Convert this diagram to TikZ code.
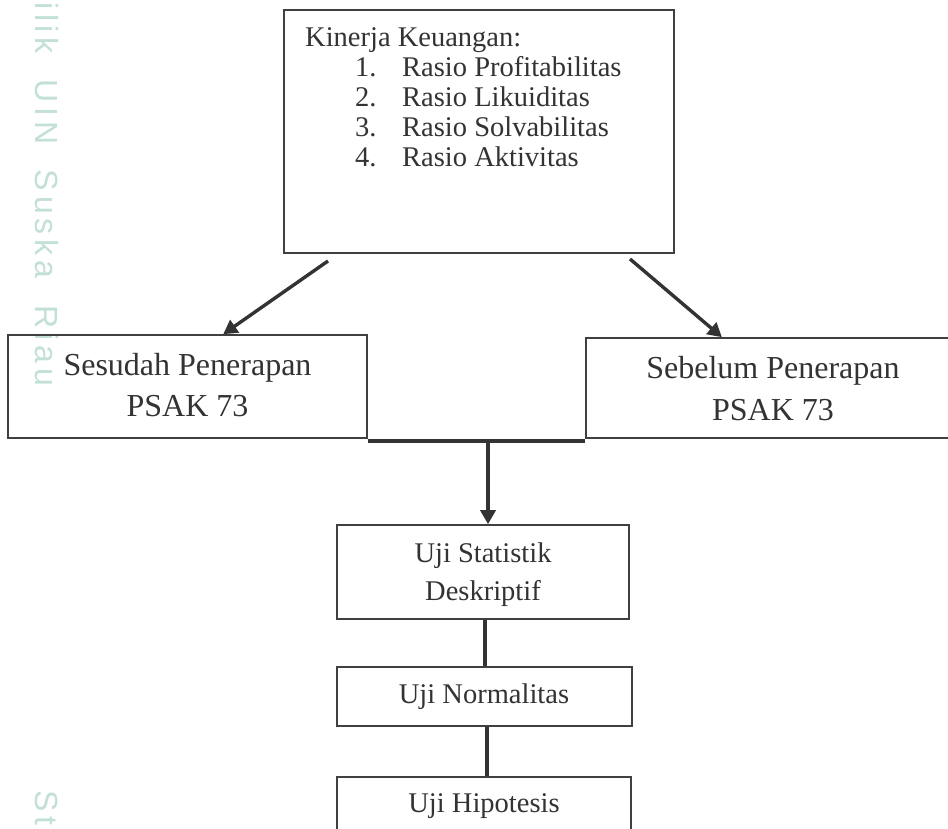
\documentclass[tikz,border=0pt]{standalone}
\usepackage{fontspec}
\setmainfont{Liberation Serif}
\newfontfamily\wmfont{Liberation Sans}[LetterSpace=15]
\usetikzlibrary{arrows.meta,calc}
\definecolor{ink}{HTML}{333333}
\definecolor{edge}{HTML}{404040}
\definecolor{wm}{HTML}{C2E0D6}
\tikzset{
  box/.style={draw=edge, line width=1.6pt, rectangle, inner sep=0pt},
  conn/.style={draw=ink, line width=3.4pt},
  arr/.style={conn, -{Triangle[length=14pt,width=15pt]}},
  txt/.style={inner sep=0pt, text=ink, anchor=base},
  big/.style={font=\fontsize{32}{38}\selectfont},
  med/.style={font=\fontsize{28.5}{34}\selectfont},
  wmtext/.style={rotate=-90, inner sep=0pt, text=wm, font=\wmfont\fontsize{32}{38}\selectfont},
}
\begin{document}
\begin{tikzpicture}[x=1pt,y=-1pt]
\clip (0,0) rectangle (948,829);
\fill[white] (0,0) rectangle (948,829);
% watermark
\node[wmtext, anchor=base west] (wm1) at (35,2) {ilik\hspace{12pt} UIN\hspace{12pt} Suska\hspace{14pt} Riau};
\node[wmtext, anchor=base west] (wm2) at (35,790) {St};
% boxes
\node[box, minimum width=390pt, minimum height=243pt] (kin) at (479,131.5) {};
\node[box, minimum width=359pt, minimum height=103pt] (ses) at (187.5,386.5) {};
\node[box, minimum width=374pt, minimum height=100pt] (seb) at (773,388) {};
\node[box, minimum width=292pt, minimum height=94pt] (stat) at (483,572) {};
\node[box, minimum width=295pt, minimum height=59pt] (norm) at (484.5,696.5) {};
\node[box, minimum width=294pt, minimum height=68pt] (hip) at (484,811) {};
% texts
\node[txt, med, anchor=base west] (t0) at (305,47) {Kinerja Keuangan:};
\node[txt, med, anchor=base west] (n1) at (355,77) {1.};
\node[txt, med, anchor=base west] (r1) at (402,77) {Rasio Profitabilitas};
\node[txt, med, anchor=base west] (n2) at (355,107) {2.};
\node[txt, med, anchor=base west] (r2) at (402,107) {Rasio Likuiditas};
\node[txt, med, anchor=base west] (n3) at (355,137) {3.};
\node[txt, med, anchor=base west] (r3) at (402,137) {Rasio Solvabilitas};
\node[txt, med, anchor=base west] (n4) at (355,167) {4.};
\node[txt, med, anchor=base west] (r4) at (402,167) {Rasio Aktivitas};
\node[txt, big] (s1) at (187.5,375) {Sesudah Penerapan};
\node[txt, big] (s2) at (187.5,416) {PSAK 73};
\node[txt, big] (b1) at (773,378) {Sebelum Penerapan};
\node[txt, big] (b2) at (773,420) {PSAK 73};
\node[txt, med] (u1) at (483,562) {Uji Statistik};
\node[txt, med] (u2) at (483,600) {Deskriptif};
\node[txt, med] (u3) at (484,703) {Uji Normalitas};
\node[txt, med] (u4) at (484,812) {Uji Hipotesis};
% connectors
\coordinate (a1s) at (328,261);
\coordinate (a2s) at (630,259);
\draw[arr] (a1s) -- ($(ses.north west)!0.599!(ses.north east)$);
\draw[arr] (a2s) -- ($(seb.north west)!0.364!(seb.north east)$);
\coordinate (jl) at ($(ses.south east)+(0,2)$);
\coordinate (jr) at ($(seb.south west)+(0,2)$);
\draw[conn] (jl) -- (jr);
\coordinate (jm) at ($(jl)!0.553!(jr)$);
\draw[arr] (jm) -- (jm |- stat.north);
\coordinate (c1) at ($(stat.south)+(2,0)$);
\coordinate (c2) at ($(norm.south)+(2.5,0)$);
\draw[conn] (c1) -- (c1 |- norm.north);
\draw[conn] (c2) -- (c2 |- hip.north);
\end{tikzpicture}
\end{document}
